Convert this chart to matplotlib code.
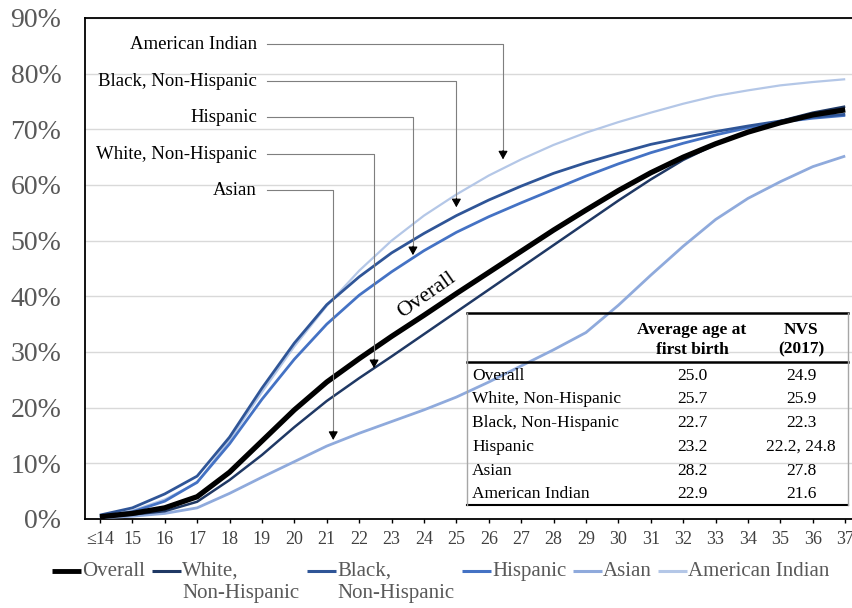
import matplotlib
matplotlib.use('Agg')
import matplotlib.pyplot as plt
from matplotlib.lines import Line2D

plt.rcParams['font.family'] = ['Liberation Serif', 'DejaVu Serif']

# ages and cumulative share with a first birth (%)
ages = ['≤14', '15', '16', '17', '18', '19', '20', '21', '22', '23', '24', '25',
        '26', '27', '28', '29', '30', '31', '32', '33', '34', '35', '36', '37']

overall = [0.4, 1.0, 2.0, 4.0, 8.4, 14.0, 19.6, 24.6, 28.8, 32.8, 36.6, 40.5,
           44.3, 48.1, 51.9, 55.5, 59.0, 62.2, 65.0, 67.4, 69.5, 71.2, 72.6, 73.5]
white_nh = [0.3, 0.8, 1.4, 3.1, 7.0, 11.5, 16.5, 21.2, 25.3, 29.2, 33.2, 37.2,
            41.2, 45.2, 49.2, 53.2, 57.2, 61.0, 64.5, 67.3, 69.6, 71.5, 73.0, 74.1]
black_nh = [0.7, 2.0, 4.5, 7.7, 14.7, 23.5, 31.6, 38.5, 43.5, 47.8, 51.3, 54.5,
            57.3, 59.8, 62.1, 64.0, 65.7, 67.3, 68.5, 69.6, 70.6, 71.5, 72.2, 72.7]
hispanic = [0.4, 1.3, 3.2, 6.6, 13.5, 21.5, 28.7, 35.0, 40.2, 44.4, 48.2, 51.5,
            54.3, 56.8, 59.2, 61.6, 63.8, 65.8, 67.5, 69.0, 70.3, 71.3, 72.0, 72.5]
asian = [0.2, 0.5, 1.0, 2.0, 4.6, 7.5, 10.3, 13.1, 15.4, 17.5, 19.6, 21.9,
         24.6, 27.5, 30.4, 33.5, 38.4, 43.8, 49.0, 53.8, 57.6, 60.6, 63.3, 65.2]
am_indian = [0.5, 1.5, 3.5, 6.5, 14.2, 22.8, 31.0, 38.3, 44.6, 50.0, 54.5, 58.3,
             61.7, 64.6, 67.2, 69.4, 71.3, 73.0, 74.6, 76.0, 77.0, 77.9, 78.5, 79.0]

series_names = ['Overall', 'White,\nNon-Hispanic', 'Black,\nNon-Hispanic',
                'Hispanic', 'Asian', 'American Indian']
series_vals = [overall, white_nh, black_nh, hispanic, asian, am_indian]
colors = ['#000000', '#1f3864', '#2f5597', '#4472c4', '#8faadc', '#b4c7e7']
widths = [3.8, 1.8, 2.0, 2.0, 2.0, 1.6]

# callouts: label, label height, elbow x (age index), arrow tip height
call_labels = ['American Indian', 'Black, Non-Hispanic', 'Hispanic',
               'White, Non-Hispanic', 'Asian']
call_y = [85.3, 78.6, 72.2, 65.5, 59.1]
call_x = [12.44, 11.0, 9.66, 8.46, 7.2]
call_tip = [64.6, 56.0, 47.4, 27.1, 14.2]

# summary table
tab_groups = ['Overall', 'White, Non-Hispanic', 'Black, Non-Hispanic',
              'Hispanic', 'Asian', 'American Indian']
tab_avg = ['25.0', '25.7', '22.7', '23.2', '28.2', '22.9']
tab_nvs = ['24.9', '25.9', '22.3', '22.2, 24.8', '27.8', '21.6']

W, H = 853, 608
fig = plt.figure(figsize=(W / 100, H / 100), dpi=100)
ax = fig.add_axes([85 / W, 1 - 519 / H, 1 - 85 / W, (519 - 18) / H])

x = list(range(len(ages)))
for i, (name, vals) in enumerate(zip(series_names, series_vals)):
    ax.plot(x, vals, color=colors[i], lw=widths[i], label=name,
            zorder=10 - i, solid_capstyle='butt')

ax.set_xlim(-0.46, 23.24)
ax.set_ylim(0, 90)
ax.set_yticks(range(0, 91, 10))
ax.set_yticklabels([f'{v}%' for v in range(0, 91, 10)])
ax.set_xticks(x)
ax.set_xticklabels(ages)
ax.grid(axis='y', color='#d9d9d9', lw=1.0)
ax.set_axisbelow(True)
ax.tick_params(axis='y', length=0, pad=17, labelsize=20, labelcolor='#595959')
ax.tick_params(axis='x', length=3, width=1, direction='out', pad=6,
               labelsize=13, labelcolor='#404040')
for s in ['left', 'bottom', 'top']:
    ax.spines[s].set_linewidth(1.3)
    ax.spines[s].set_color('black')
ax.spines['right'].set_visible(False)

# callout labels with elbow connectors
for lab, ly, ex, tip in zip(call_labels, call_y, call_x, call_tip):
    ax.text(4.85, ly, lab, ha='right', va='center', fontsize=13.5)
    ax.plot([5.15, ex, ex], [ly, ly, tip + 1.5], color='#7f7f7f', lw=0.8,
            zorder=12)
    ax.annotate('', xy=(ex, tip), xytext=(ex, tip + 1.6),
                arrowprops=dict(arrowstyle='-|>,head_length=0.5,head_width=0.28',
                                color='black', lw=0.8, shrinkA=0, shrinkB=0,
                                mutation_scale=10),
                zorder=13)

ax.text(10.1, 40.2, 'Overall', rotation=35, ha='center', va='center',
        fontsize=16, rotation_mode='anchor', zorder=14)


def fx(px):
    return px / W


def fy(py):
    return 1 - py / H


# table lines
tl, tr = 467, 848
fig.add_artist(Line2D([fx(tl), fx(tr)], [fy(313), fy(313)], color='black', lw=1.8))
fig.add_artist(Line2D([fx(tl), fx(tr)], [fy(362), fy(362)], color='black', lw=1.8))
fig.add_artist(Line2D([fx(tl), fx(tr)], [fy(505), fy(505)], color='black', lw=1.5))
for vx in [tl, tr]:
    fig.add_artist(Line2D([fx(vx), fx(vx)], [fy(313), fy(505)], color='#a6a6a6', lw=1.0))

fig.text(fx(692), fy(340), 'Average age at\nfirst birth', ha='center', va='center',
         fontsize=12.5, fontweight='bold', linespacing=1.3)
fig.text(fx(801), fy(340), 'NVS\n(2017)', ha='center', va='center',
         fontsize=12.5, fontweight='bold', linespacing=1.3)
row_y = [376, 399, 423, 447, 471, 494]
for g, a, n, ry in zip(tab_groups, tab_avg, tab_nvs, row_y):
    fig.text(fx(472), fy(ry), g, ha='left', va='center', fontsize=12.5)
    fig.text(fx(692), fy(ry), a, ha='center', va='center', fontsize=12.5)
    fig.text(fx(801), fy(ry), n, ha='center', va='center', fontsize=12.5)

# legend, handle beside the first line of each label
leg_x = [52, 152, 307, 462, 573, 658]
leg_y = 571
for i, name in enumerate(series_names):
    x0 = leg_x[i]
    fig.add_artist(Line2D([fx(x0), fx(x0 + 29)], [fy(leg_y), fy(leg_y)],
                          color=colors[i], lw=3.5 if i == 0 else 2.2,
                          solid_capstyle='butt'))
    fig.text(fx(x0 + 30), fy(leg_y - 9), name, ha='left', va='top',
             fontsize=15, color='#595959', linespacing=1.2)

fig.savefig('out.png', dpi=100)
